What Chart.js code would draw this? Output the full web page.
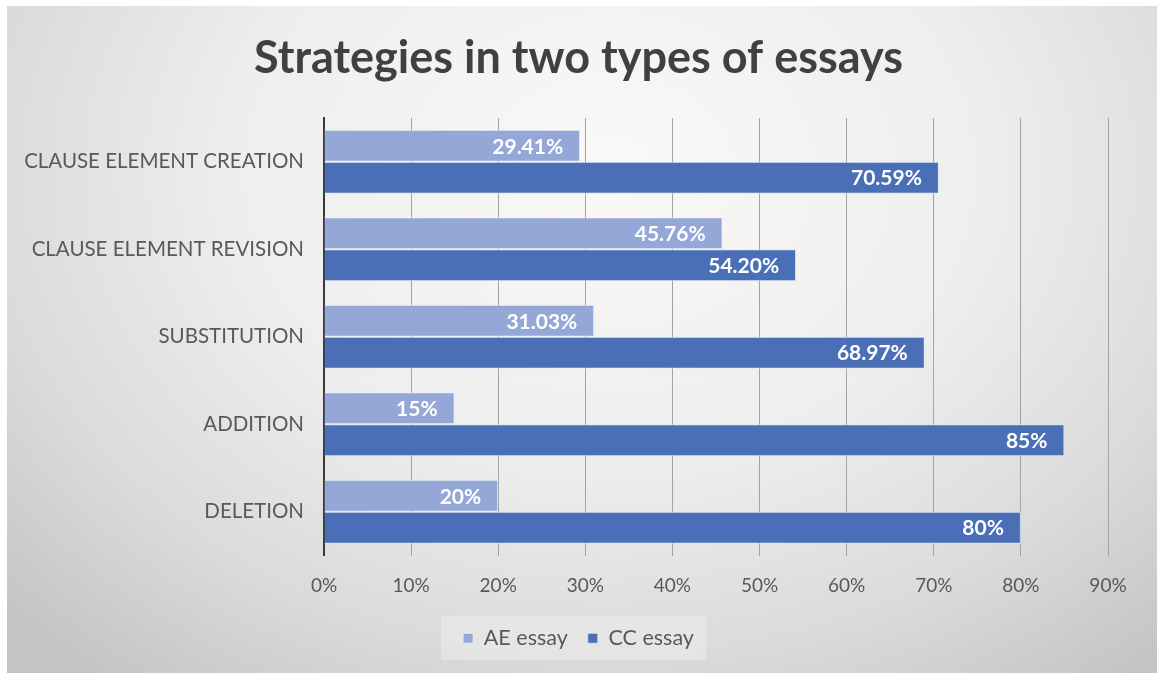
<!DOCTYPE html>
<html>
<head>
<meta charset="utf-8">
<title>Strategies in two types of essays</title>
<script src="https://cdn.jsdelivr.net/npm/chart.js@4"></script>
<style>
  html, body { margin: 0; padding: 0; background: #ffffff; }
  canvas { display: block; }
</style>
</head>
<body>
<canvas id="chart" width="1157" height="673"></canvas>
<script>
// Categories, top to bottom
const categories = [
  'CLAUSE ELEMENT CREATION',
  'CLAUSE ELEMENT REVISION',
  'SUBSTITUTION',
  'ADDITION',
  'DELETION'
];

// Percentages as written on the bars
const aeValues = ['29.41', '45.76', '31.03', '15', '20'];
const ccValues = ['70.59', '54.20', '68.97', '85', '80'];

// Value-axis ticks
const tickValues = [0, 10, 20, 30, 40, 50, 60, 70, 80, 90];

const seriesNames = ['AE essay', 'CC essay'];
const seriesColors = ['#94a7d7', '#4a6fb6'];

const FONT = 'Lato, "Open Sans", "Liberation Sans", sans-serif';
const TEXT_GREY = '#595959';

// Soft grey backdrop with a light centre, inside a thin white margin
const backdrop = {
  id: 'backdrop',
  beforeDraw(chart) {
    const ctx = chart.ctx;
    const w = chart.width, h = chart.height;
    ctx.save();
    ctx.fillStyle = '#ffffff';
    ctx.fillRect(0, 0, w, h);
    const x0 = 7, y0 = 6;
    ctx.beginPath();
    ctx.rect(x0, y0, w - x0, h - y0);
    ctx.clip();
    ctx.translate(610, 170);
    ctx.scale(1, 0.78);
    const g = ctx.createRadialGradient(0, 0, 0, 0, 0, 830);
    g.addColorStop(0, '#faf9f7');
    g.addColorStop(0.45, '#eeeeee');
    g.addColorStop(0.75, '#dbdbdb');
    g.addColorStop(1, '#c4c4c4');
    ctx.fillStyle = g;
    ctx.fillRect(-1200, -1200, 2400, 2400);
    ctx.restore();
  }
};

// Light panel behind the legend items
const legendPanel = {
  id: 'legendPanel',
  beforeDraw(chart) {
    const boxes = chart.legend && chart.legend.legendHitBoxes;
    if (!boxes || !boxes.length) return;
    let l = Infinity, r = -Infinity, t = Infinity, b = -Infinity;
    boxes.forEach(bx => {
      l = Math.min(l, bx.left); r = Math.max(r, bx.left + bx.width);
      t = Math.min(t, bx.top); b = Math.max(b, bx.top + bx.height);
    });
    const ctx = chart.ctx;
    ctx.save();
    ctx.fillStyle = 'rgba(255,255,255,0.28)';
    ctx.fillRect(l - 22, t - 11, (r - l) + 34, (b - t) + 22);
    ctx.restore();
  }
};

// White value labels just inside the end of each bar
const barLabels = {
  id: 'barLabels',
  afterDatasetsDraw(chart) {
    const ctx = chart.ctx;
    ctx.save();
    ctx.font = 'bold 21px ' + FONT;
    ctx.fillStyle = '#ffffff';
    ctx.textAlign = 'right';
    ctx.textBaseline = 'middle';
    chart.data.datasets.forEach((ds, di) => {
      const meta = chart.getDatasetMeta(di);
      meta.data.forEach((bar, i) => {
        ctx.fillText(ds.valueText[i] + '%', bar.x - 17, bar.y + 1);
      });
    });
    ctx.restore();
  }
};

const aeData = aeValues.map(parseFloat);
const ccData = ccValues.map(parseFloat);

new Chart(document.getElementById('chart'), {
  type: 'bar',
  data: {
    labels: categories,
    datasets: [
      {
        label: seriesNames[0],
        data: aeData,
        valueText: aeValues,
        backgroundColor: seriesColors[0],
        borderColor: 'rgba(235,242,252,0.85)',
        borderWidth: 1,
        categoryPercentage: 0.73,
        barPercentage: 1.0
      },
      {
        label: seriesNames[1],
        data: ccData,
        valueText: ccValues,
        backgroundColor: seriesColors[1],
        borderColor: 'rgba(220,232,250,0.85)',
        borderWidth: 1,
        categoryPercentage: 0.73,
        barPercentage: 1.0
      }
    ]
  },
  options: {
    indexAxis: 'y',
    responsive: false,
    animation: false,
    devicePixelRatio: 1,
    layout: { padding: { left: 7, right: 7, top: 6, bottom: 14 } },
    plugins: {
      title: {
        display: true,
        text: 'Strategies in two types of essays',
        color: '#404040',
        font: { family: FONT, size: 45, weight: 'bold' },
        padding: { top: 25, bottom: 33 }
      },
      legend: {
        position: 'bottom',
        labels: {
          color: TEXT_GREY,
          font: { family: FONT, size: 21.5 },
          boxWidth: 10,
          boxHeight: 10,
          padding: 20
        }
      },
      tooltip: { enabled: false }
    },
    scales: {
      x: {
        min: 0,
        max: 90,
        afterBuildTicks(axis) {
          axis.ticks = tickValues.map(v => ({ value: v }));
        },
        afterFit(axis) { axis.height = 52; },
        grid: { color: '#a3a3a3', lineWidth: 1, drawTicks: false },
        border: { display: false },
        ticks: {
          color: TEXT_GREY,
          padding: 19,
          font: { family: FONT, size: 19 },
          callback: v => v + '%'
        }
      },
      y: {
        afterFit(axis) { axis.width = 317; },
        grid: { display: false, drawTicks: false },
        border: { display: true, color: '#3a3a3a', width: 2 },
        ticks: {
          color: TEXT_GREY,
          padding: 20,
          font: { family: FONT, size: 20.5 }
        }
      },
      // empty margin to the right of the plot
      rightMargin: {
        type: 'linear',
        axis: 'y',
        position: 'right',
        min: 0,
        max: 1,
        afterFit(axis) { axis.width = 42; },
        grid: { display: false, drawTicks: false },
        border: { display: false },
        ticks: { display: false }
      }
    }
  },
  plugins: [backdrop, legendPanel, barLabels]
});
</script>
</body>
</html>
